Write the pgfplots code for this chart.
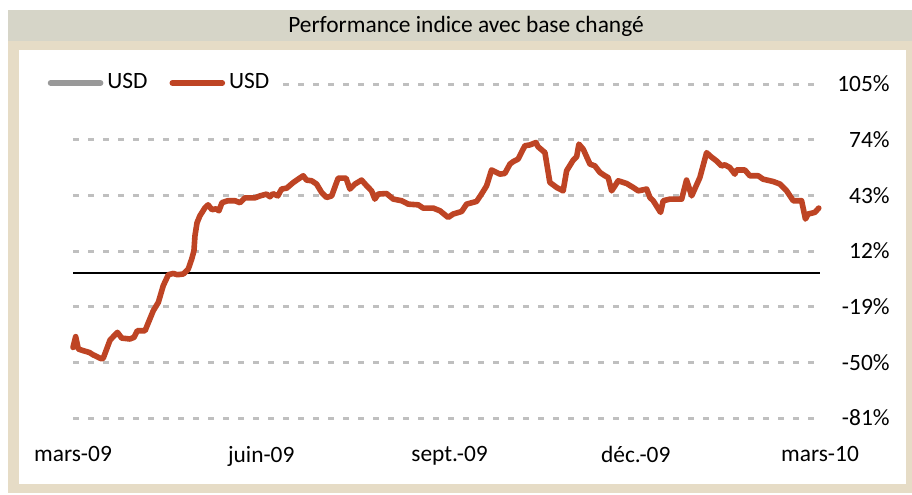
\documentclass[border=0pt]{standalone}
\usepackage{fontspec}
\setmainfont{Carlito}
\usepackage{pgfplots}
\pgfplotsset{compat=1.18}
\definecolor{redline}{RGB}{190,68,36}
\definecolor{gridgray}{RGB}{191,191,191}
\definecolor{titlegray}{RGB}{214,213,200}
\definecolor{beige}{RGB}{230,220,198}
\definecolor{leggray}{RGB}{153,153,153}
\begin{document}
\fontsize{11.7}{14}\selectfont
\begin{tikzpicture}
\useasboundingbox (0,0) rectangle (456pt,247pt);
\fill[beige] (4pt,0.5pt) rectangle (456pt,226.5pt);
\fill[titlegray] (4pt,226.5pt) rectangle (456pt,242pt);
\fill[white] (9.5pt,5pt) rectangle (453pt,222pt);
\node[font=\fontsize{11.7}{14}\selectfont, inner sep=0pt] at (233pt,234pt) {Performance indice avec base changé};
\begin{axis}[
  at={(36.5pt,38pt)}, anchor=south west,
  scale only axis, width=373.5pt, height=167pt,
  xmin=0, xmax=365, ymin=-81, ymax=105,
  clip=false,
  axis line style={draw=none},
  major tick length=0pt,
  xtick={0,92,184,275,365},
  xticklabels={mars-09,juin-09,sept.-09,déc.-09,mars-10},
  ytick={-81,-50,-19,12,43,74,105},
  yticklabels={-81\%,-50\%,-19\%,12\%,43\%,74\%,105\%},
  yticklabel pos=right,
  tick label style={font=\fontsize{11.7}{14}\selectfont},
  yticklabel style={anchor=east, inner xsep=0pt, xshift=35pt},
  xticklabel style={yshift=-10pt},
  ymajorgrids,
  grid style={gridgray, line width=1.5pt, dash pattern=on 2.75pt off 4.75pt},
  legend columns=2,
  legend style={at={(-0.037,1.003)}, anchor=west, draw=none, fill=white,
    font=\fontsize{11.7}{14}\selectfont, inner xsep=1pt, inner ysep=1pt,
    /tikz/every even column/.append style={column sep=9pt}},
  legend image code/.code={\draw[#1, line cap=round] (0pt,0pt) -- (25pt,0pt);},
]
\addplot[black, line width=1pt, forget plot] coordinates {(0,0) (365,0)};
\addlegendimage{leggray, line width=2.8pt}
\addlegendentry{USD}
\addplot[redline, line width=2.8pt, line join=round, line cap=round] coordinates {
(0,-41.7) (1.3,-35.7) (2.6,-42.6) (5.0,-43.5) (8.0,-44.5) (9.8,-45.8) (14.0,-48.1) (14.8,-47.6)
(18.1,-37.6) (21.7,-33.3) (23.8,-36.5) (27.8,-37.0) (29.8,-36.1) (31.4,-32.4) (35.2,-32.4)
(39.2,-21.3) (41.7,-16.6) (44.1,-7.3) (46.6,-1.2) (49.0,-0.5) (51.0,-1.2) (53.9,-0.8)
(56.3,1.9) (58.0,7.5) (59.1,12.1) (59.6,20.5) (60.6,27.7) (62.0,31.6) (64.5,36.1) (66.0,37.7)
(67.9,35.0) (69.9,35.5) (71.3,34.4) (72.8,38.9) (75.7,40.0) (79.1,40.0) (81.6,38.9) (84.0,41.6)
(88.9,41.6) (91.4,42.7) (94.6,43.7) (96.2,42.2) (97.7,43.9) (100.1,42.7) (101.9,46.5) (104.4,47.0)
(107.6,50.1) (110.0,52.0) (112.5,53.9) (114.1,51.5) (116.6,51.1) (119.0,49.3) (121.5,44.6)
(123.9,41.8) (126.4,42.7) (128.5,49.3) (129.6,52.6) (133.4,52.6) (135.3,46.5) (137.8,49.3)
(141.0,51.5) (143.5,48.3) (145.9,45.5) (147.5,40.9) (149.1,43.7) (153.2,44.0) (156.5,40.9)
(160.6,40.0) (163.8,38.1) (168.7,37.7) (171.1,35.9) (176.0,35.9) (179.3,34.4) (183.3,30.7)
(185.8,32.6) (189.9,34.0) (192.3,38.1) (197.2,39.6) (199.6,43.7) (202.1,48.3) (204.5,57.1)
(208.6,54.8) (211.0,55.2) (213.5,60.4) (215.1,61.8) (217.5,63.2) (220.8,70.6) (223.3,71.1)
(226.2,72.4) (227.3,70.0) (230.6,66.8) (233.0,50.2) (236.3,47.4) (239.5,45.5) (241.2,56.7)
(244.4,62.6) (246.1,64.5) (247.2,71.5) (249.3,68.7) (252.6,60.4) (255.0,59.4) (257.5,55.7)
(259.9,53.9) (261.5,52.9) (263.2,45.5) (266.4,51.1) (270.5,49.6) (273.7,47.4) (276.2,45.5)
(280.3,46.5) (281.9,41.8) (283.5,40.0) (287.1,33.5) (288.4,40.0) (291.7,40.9) (297.4,40.9)
(299.8,51.5) (302.3,42.7) (306.3,52.9) (309.6,66.8) (311.2,65.0) (314.4,62.2) (316.9,59.4)
(318.5,60.0) (320.9,58.5) (323.4,54.8) (324.2,57.1) (328.3,57.1) (330.7,53.9) (334.8,53.9)
(337.2,52.0) (342.1,50.7) (345.4,49.3) (348.7,45.5) (351.9,40.0) (356.0,40.0) (357.9,29.8)
(359.2,32.6) (362.5,33.5) (364.4,35.9)
};
\addlegendentry{USD}
\end{axis}
\end{tikzpicture}
\end{document}
